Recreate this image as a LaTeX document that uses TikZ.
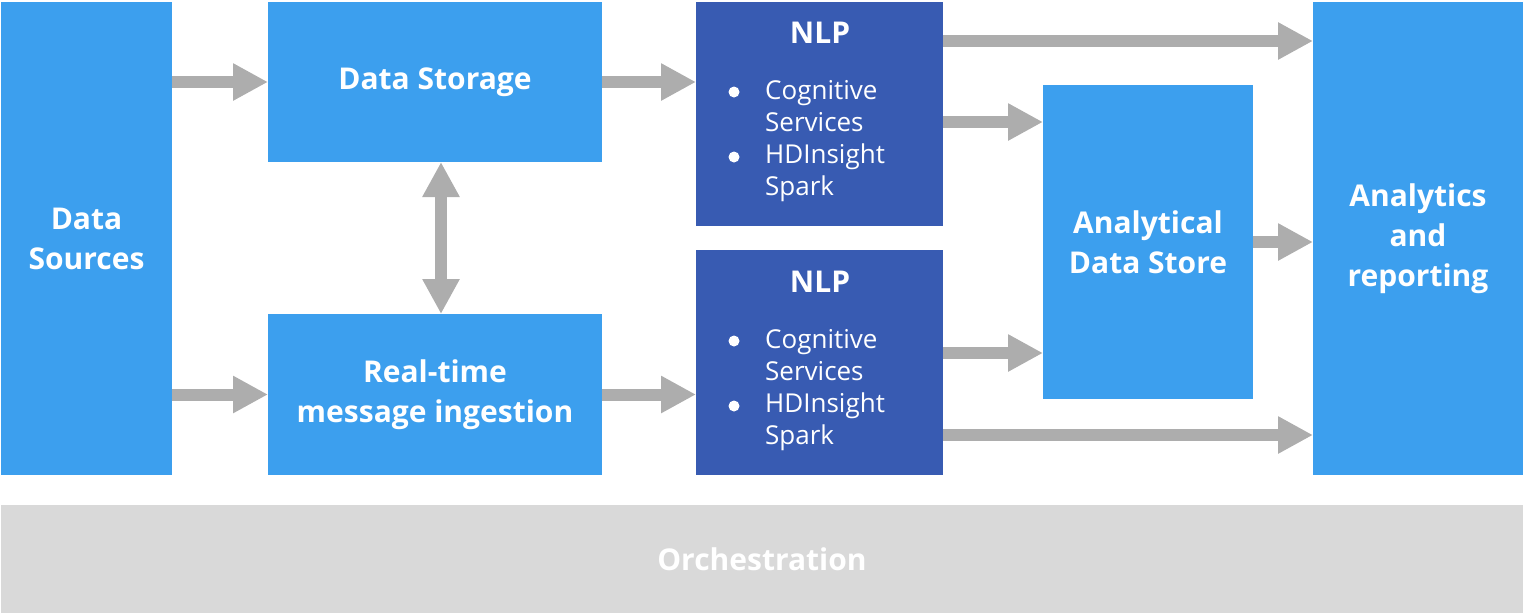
\documentclass[tikz,border=0pt]{standalone}
\usepackage{fontspec}
\setmainfont{Open Sans}
\usetikzlibrary{arrows.meta}
\definecolor{lblue}{HTML}{3C9FEE}
\definecolor{dblue}{HTML}{385BB2}
\definecolor{agray}{HTML}{ADADAD}
\definecolor{ogray}{HTML}{D9D9D9}
\begin{document}
\begin{tikzpicture}[x=1pt,y=-1pt,
  box/.style={fill=lblue, draw=none, anchor=north west, inner sep=0pt, outer sep=0pt,
    text=white, font=\bfseries\fontsize{30}{40}\selectfont, align=center},
  nlpbox/.style={box, fill=dblue},
  orchbox/.style={box, fill=ogray},
  ttl/.style={text=white, font=\bfseries\fontsize{30}{40}\selectfont, inner sep=0pt},
  item/.style={text=white, font=\fontsize{26}{32}\selectfont, inner sep=0pt, anchor=base west},
  arr/.style={draw=agray, line width=12pt, -{Triangle[width=35pt,length=35pt]}},
  darr/.style={draw=agray, line width=12pt, {Triangle[width=35pt,length=35pt]}-{Triangle[width=35pt,length=35pt]}}
]
\useasboundingbox (0,0) rectangle (1530,614);
% boxes
\node[box, minimum width=171pt, minimum height=473pt] (ds) at (1,2) {Data\\Sources};
\node[box, minimum width=334pt, minimum height=160pt] (stor) at (268,2) {Data Storage};
\node[box, minimum width=334pt, minimum height=161pt] (rt) at (268,314) {Real-time\\message ingestion};
\node[nlpbox, minimum width=247pt, minimum height=224pt] (nlp1) at (696,2) {};
\node[nlpbox, minimum width=247pt, minimum height=225pt] (nlp2) at (696,250) {};
\node[box, minimum width=210pt, minimum height=314pt] (ads) at (1043,85) {Analytical\\Data Store};
\node[box, minimum width=210pt, minimum height=473pt] (ar) at (1313,2) {Analytics\\and\\reporting};
\node[orchbox, minimum width=1522pt, minimum height=108pt] (orch) at (1,505) {Orchestration};
% NLP contents
\node[ttl] (t1) at (820,33) {NLP};
\node[item] (c1) at (765,99) {Cognitive};
\node[item] (s1) at (765,131) {Services};
\node[item] (h1) at (765,163) {HDInsight};
\node[item] (p1) at (765,195) {Spark};
\fill[white] (734,92) circle (5.5pt);
\fill[white] (734,157) circle (5.5pt);
\node[ttl] (t2) at (820,282) {NLP};
\node[item] (c2) at (765,348) {Cognitive};
\node[item] (s2) at (765,380) {Services};
\node[item] (h2) at (765,412) {HDInsight};
\node[item] (p2) at (765,444) {Spark};
\fill[white] (734,341) circle (5.5pt);
\fill[white] (734,406) circle (5.5pt);
% arrows
\draw[arr] (ds.east|-stor.west) -- (stor.west);
\draw[arr] (ds.east|-rt.west) -- (rt.west);
\draw[arr] (stor.east) -- (nlp1.west|-stor.east);
\draw[arr] (rt.east) -- (nlp2.west|-rt.east);
\draw[darr] ([xshift=6pt]stor.south) -- ([xshift=6pt]rt.north);
\coordinate (n1a) at ([yshift=-39pt]nlp1.north east);
\coordinate (n1b) at ([yshift=-120pt]nlp1.north east);
\coordinate (n2a) at ([yshift=-103pt]nlp2.north east);
\coordinate (n2b) at ([yshift=-185pt]nlp2.north east);
\draw[arr] (n1a) -- (n1a-|ar.west);
\draw[arr] (n1b) -- (n1b-|ads.west);
\draw[arr] (ads.east) -- (ads.east-|ar.west);
\draw[arr] (n2a) -- (n2a-|ads.west);
\draw[arr] (n2b) -- (n2b-|ar.west);
\end{tikzpicture}
\end{document}
